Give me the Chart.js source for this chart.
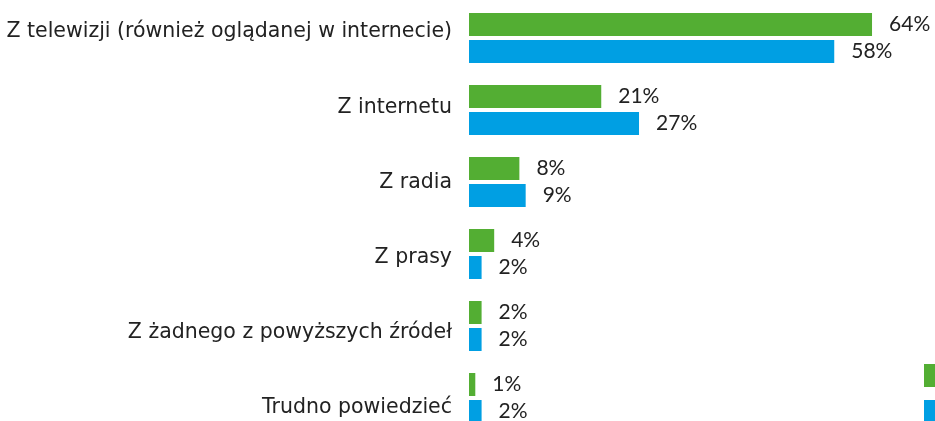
<!DOCTYPE html>
<html>
<head>
<meta charset="utf-8">
<script src="https://cdn.jsdelivr.net/npm/chart.js@4/dist/chart.umd.min.js"></script>
<style>
  html, body { margin: 0; padding: 0; background: #fff; overflow: hidden; }
  #wrap { position: relative; width: 935px; height: 440px; }
</style>
</head>
<body>
<div id="wrap"><canvas id="chart"></canvas></div>
<script>
// Chart data
const categories = [
  'Z telewizji (również oglądanej w internecie)',
  'Z internetu',
  'Z radia',
  'Z prasy',
  'Z żadnego z powyższych źródeł',
  'Trudno powiedzieć'
];
const seriesGreen = [64, 21, 8, 4, 2, 1];
const seriesBlue = [58, 27, 9, 2, 2, 2];

const GREEN = '#53ae33';
const BLUE = '#009fe3';
const TEXT = '#222222';
const VALUE_FONT = 'Lato, "Noto Sans", sans-serif';
const LABEL_FONT = '"DejaVu Sans", sans-serif';

// draws "NN%" just right of each bar end
const valueLabels = {
  id: 'valueLabels',
  afterDatasetsDraw(chart) {
    const ctx = chart.ctx;
    ctx.save();
    ctx.font = '21px ' + VALUE_FONT;
    ctx.fillStyle = TEXT;
    ctx.textBaseline = 'middle';
    ctx.textAlign = 'left';
    chart.data.datasets.forEach((ds, di) => {
      chart.getDatasetMeta(di).data.forEach((bar, i) => {
        ctx.fillText(ds.data[i] + '%', bar.x + 17, bar.y);
      });
    });
    ctx.restore();
  }
};

// legend swatches, cut off at the right edge like the original
const edgeLegend = {
  id: 'edgeLegend',
  afterDraw(chart) {
    const ctx = chart.ctx;
    const colors = [GREEN, BLUE];
    ctx.save();
    colors.forEach((c, i) => {
      ctx.fillStyle = c;
      ctx.fillRect(chart.width - 11, 364 + i * 36, 12, 23);
    });
    ctx.restore();
  }
};

new Chart(document.getElementById('chart'), {
  type: 'bar',
  data: {
    labels: categories,
    datasets: [
      { label: 'A', data: seriesGreen, backgroundColor: GREEN },
      { label: 'B', data: seriesBlue, backgroundColor: BLUE }
    ]
  },
  options: {
    indexAxis: 'y',
    responsive: true,
    maintainAspectRatio: false,
    animation: false,
    categoryPercentage: 0.75,
    barPercentage: 0.852,
    layout: { padding: { top: 2, bottom: 6, left: 0, right: 0 } },
    plugins: {
      legend: { display: false },
      tooltip: { enabled: false }
    },
    scales: {
      x: {
        display: false,
        min: 0,
        max: 74
      },
      y: {
        type: 'category',
        display: false
      },
      // label axis: text labels sit on a slightly wider step than the bars
      yl: {
        type: 'linear',
        position: 'left',
        reverse: true,
        offset: false,
        bounds: 'data',
        afterDataLimits: (scale) => {
          scale.min = -0.399;
          scale.max = 5.346;
        },
        afterBuildTicks: (scale) => {
          scale.ticks = categories.map((_, i) => ({ value: i }));
        },
        afterFit: (scale) => {
          scale.width = 469;
          scale.paddingTop = 0;
          scale.paddingBottom = 0;
        },
        grid: { display: false, drawTicks: false, offset: false },
        border: { display: false },
        ticks: {
          autoSkip: false,
          padding: 17,
          color: TEXT,
          font: { family: LABEL_FONT, size: 20.5 },
          callback: (v) => categories[Math.round(v)]
        }
      }
    }
  },
  plugins: [valueLabels, edgeLegend]
});
</script>
</body>
</html>
